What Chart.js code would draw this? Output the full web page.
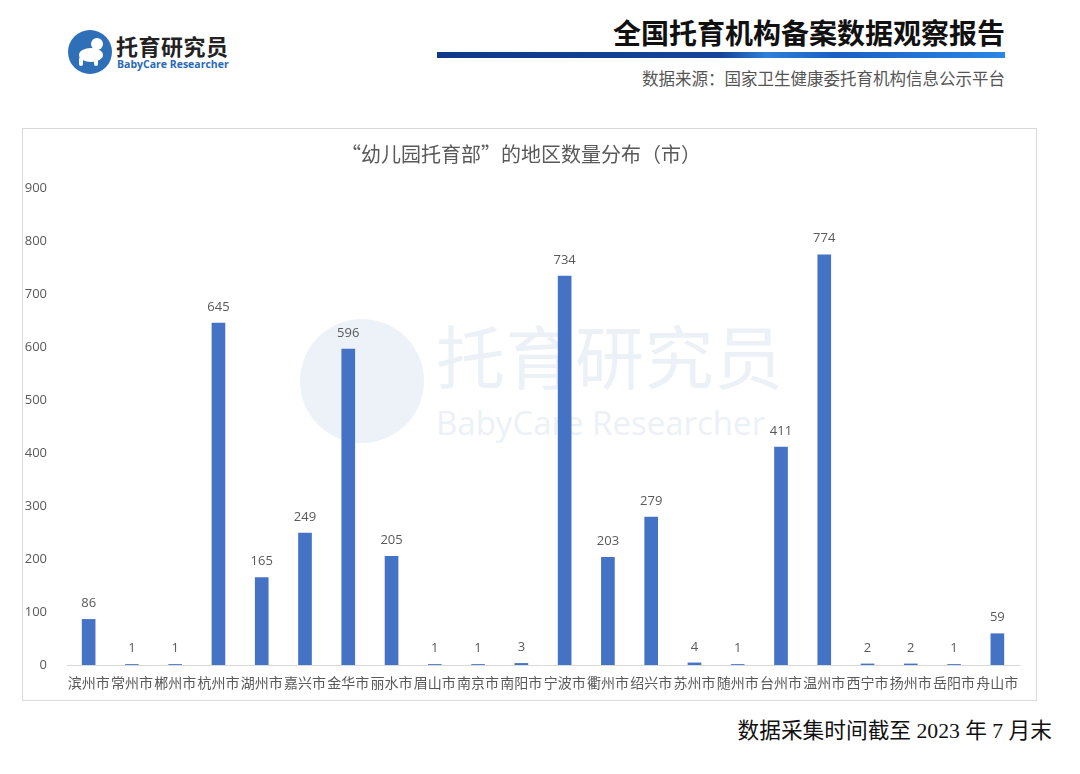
<!DOCTYPE html>
<html>
<head>
    <meta charset="UTF-8">
    <title>幼儿园托育部 地区数量分布</title>
    <script src="https://cdn.jsdelivr.net/npm/chart.js"></script>
    <style>
        body {
            margin: 0;
            width: 1080px;
            height: 774px;
            background: #fff;
            font-family: "Noto Sans CJK SC", sans-serif;
            position: relative;
            overflow: hidden;
        }
        .logo-circle {
            position: absolute;
            left: 68px;
            top: 30px;
            width: 44px;
            height: 44px;
        }
        .logo-cn {
            position: absolute;
            left: 116px;
            top: 30px;
            font-size: 22px;
            font-weight: bold;
            color: #222;
            line-height: 30px;
            letter-spacing: 0.5px;
        }
        .logo-en {
            position: absolute;
            left: 117px;
            top: 56px;
            font-family: "Open Sans", sans-serif;
            font-size: 10.5px;
            font-weight: bold;
            color: #2a6ab5;
            line-height: 16px;
        }
        .report-title {
            position: absolute;
            right: 75px;
            top: 14px;
            font-size: 28px;
            font-weight: bold;
            color: #111;
            line-height: 36px;
        }
        .title-bar {
            position: absolute;
            left: 437px;
            width: 568px;
            top: 52px;
            height: 6px;
            background: linear-gradient(90deg, #0f3988 0%, #17449a 50%, #2f7fd8 58%, #1c5fc4 70%, #2b86e4 100%);
        }
        .source {
            position: absolute;
            right: 75px;
            top: 67px;
            font-size: 16.5px;
            color: #555;
            line-height: 22px;
        }
        .chart-box {
            position: absolute;
            left: 22px;
            top: 128px;
            width: 1015px;
            height: 573px;
            border: 1px solid #d9d9d9;
            box-sizing: border-box;
        }
        .wm-circle {
            position: absolute;
            left: 277px;
            top: 190px;
            width: 124px;
            height: 124px;
            border-radius: 50%;
            background: #edf2f8;
        }
        .wm-cn {
            position: absolute;
            left: 413px;
            top: 180px;
            font-size: 69px;
            color: #ecf1f8;
            line-height: 90px;
            letter-spacing: 0.5px;
        }
        .wm-en {
            position: absolute;
            left: 413px;
            top: 272px;
            font-family: "Open Sans", sans-serif;
            font-size: 33px;
            color: #ecf1f8;
            line-height: 44px;
        }
        .chart-wrap {
            position: absolute;
            left: 0;
            top: 0;
            width: 1013px;
            height: 571px;
        }
        .footer {
            position: absolute;
            right: 28px;
            top: 716px;
            font-family: "Liberation Serif", "Noto Sans CJK SC", serif;
            font-size: 21.7px;
            color: #111;
            line-height: 30px;
        }
    </style>
</head>
<body>
    <svg class="logo-circle" viewBox="0 0 44 44">
        <circle cx="22" cy="22" r="22" fill="#2f6fb8"/>
        <ellipse cx="23" cy="25" rx="12" ry="7" fill="#fff"/>
        <circle cx="29" cy="14" r="6" fill="#fff"/>
        <rect x="11" y="27" width="4" height="9" rx="2" fill="#fff"/>
        <rect x="26" y="27" width="4" height="9" rx="2" fill="#fff"/>
    </svg>
    <div class="logo-cn">托育研究员</div>
    <div class="logo-en">BabyCare Researcher</div>

    <div class="report-title">全国托育机构备案数据观察报告</div>
    <div class="title-bar"></div>
    <div class="source">数据来源：国家卫生健康委托育机构信息公示平台</div>

    <div class="chart-box">
        <div class="wm-circle"></div>
        <div class="wm-cn">托育研究员</div>
        <div class="wm-en">BabyCare Researcher</div>
        <div class="chart-wrap">
            <canvas id="cityChart"></canvas>
        </div>
    </div>

    <div class="footer">数据采集时间截至 2023 年 7 月末</div>

    <script>
        // 各市“幼儿园托育部”数量
        var cities = ['滨州市', '常州市', '郴州市', '杭州市', '湖州市', '嘉兴市', '金华市', '丽水市', '眉山市', '南京市', '南阳市',
            '宁波市', '衢州市', '绍兴市', '苏州市', '随州市', '台州市', '温州市', '西宁市', '扬州市', '岳阳市', '舟山市'];
        var counts = [86, 1, 1, 645, 165, 249, 596, 205, 1, 1, 3,
            734, 203, 279, 4, 1, 411, 774, 2, 2, 1, 59];
        var yTicks = [0, 100, 200, 300, 400, 500, 600, 700, 800, 900];

        // 柱顶数值标签
        var valueLabels = {
            id: 'valueLabels',
            afterDatasetsDraw: function(chart) {
                var ctx = chart.ctx;
                var meta = chart.getDatasetMeta(0);
                ctx.save();
                ctx.font = '13px "Open Sans", sans-serif';
                ctx.fillStyle = '#595959';
                ctx.textAlign = 'center';
                ctx.textBaseline = 'middle';
                meta.data.forEach(function(bar, i) {
                    ctx.fillText(counts[i], bar.x, bar.y - 16);
                });
                ctx.restore();
            }
        };

        var ctx = document.getElementById('cityChart').getContext('2d');
        var chart = new Chart(ctx, {
            type: 'bar',
            data: {
                labels: cities,
                datasets: [{
                    data: counts,
                    backgroundColor: '#4472c4',
                    barThickness: 13
                }]
            },
            options: {
                responsive: true,
                maintainAspectRatio: false,
                animation: false,
                layout: {
                    padding: { left: 0, right: 17, top: 0, bottom: 0 }
                },
                plugins: {
                    legend: { display: false },
                    tooltip: { enabled: false },
                    title: {
                        display: true,
                        text: '“幼儿园托育部”的地区数量分布（市）',
                        color: '#595959',
                        font: { size: 20, family: '"Noto Sans CJK SC", sans-serif', weight: 'normal' },
                        padding: { top: 13, bottom: 22 }
                    }
                },
                scales: {
                    x: {
                        grid: { display: false },
                        border: { display: true, color: '#d9d9d9', width: 1 },
                        afterFit: function(scale) {
                            scale.height = 35;
                        },
                        ticks: {
                            color: '#595959',
                            font: { size: 14, family: '"Noto Sans CJK SC", sans-serif' },
                            autoSkip: false,
                            maxRotation: 0,
                            minRotation: 0,
                            padding: 1
                        }
                    },
                    y: {
                        min: 0,
                        max: yTicks[yTicks.length - 1],
                        grid: { display: false },
                        border: { display: false },
                        afterBuildTicks: function(scale) {
                            scale.ticks = yTicks.map(function(v) { return { value: v }; });
                        },
                        afterFit: function(scale) {
                            scale.width = 44;
                        },
                        ticks: {
                            color: '#595959',
                            font: { size: 13, family: '"Open Sans", sans-serif' },
                            padding: 12
                        }
                    }
                }
            },
            plugins: [valueLabels]
        });
    </script>
</body>
</html>
